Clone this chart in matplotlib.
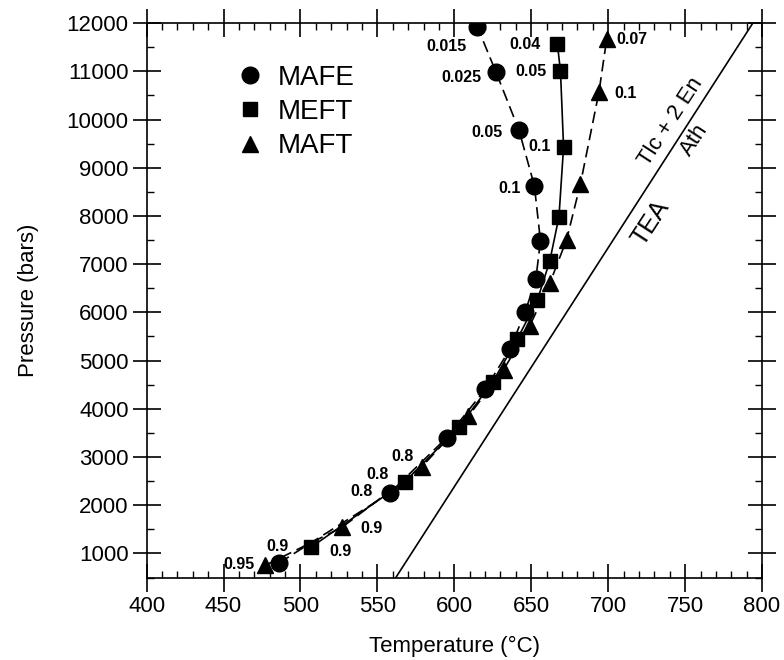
import matplotlib
matplotlib.use('Agg')
from matplotlib import pyplot as plt
from matplotlib.lines import Line2D
from matplotlib.ticker import MultipleLocator

plt.rcParams['font.family'] = ['Liberation Sans', 'DejaVu Sans']

# data
mafe_t = [486, 558, 595, 620, 636, 646, 653, 656, 652, 642, 627, 615]
mafe_p = [800, 2250, 3400, 4400, 5230, 6000, 6700, 7480, 8630, 9780, 10990, 11920]
mafe_lab = {0: '0.9', 1: '0.8', 8: '0.1', 9: '0.05', 10: '0.025', 11: '0.015'}

meft_t = [507, 568, 603, 625, 641, 654, 662, 668, 671, 669, 667]
meft_p = [1130, 2490, 3620, 4560, 5450, 6260, 7060, 7980, 9430, 11000, 11560]
meft_lab = {0: '0.9', 1: '0.8', 8: '0.1', 9: '0.05', 10: '0.04'}

maft_t = [477, 527, 579, 609, 632, 649, 662, 673, 682, 694, 699]
maft_p = [750, 1540, 2800, 3840, 4810, 5720, 6600, 7510, 8670, 10570, 11660]
maft_lab = {0: '0.95', 1: '0.9', 2: '0.8', 9: '0.1', 10: '0.07'}

tea_t = [562, 794]
tea_p = [500, 12000]

# label offsets (points) relative to each marker
mafe_off = {0: (-1, 12), 1: (-20, 1), 8: (-18, -2), 9: (-23, -2), 10: (-25, -4), 11: (-22, -14)}
meft_off = {0: (21, -3), 1: (-20, 5), 8: (-17, 0), 9: (-21, 0), 10: (-23, 0)}
maft_off = {0: (-19, 1), 1: (21, -1), 2: (-14, 7), 9: (19, -1), 10: (18, 0)}

fig = plt.figure(figsize=(7.84, 6.6), dpi=100)
ax = fig.add_axes([0.187, 0.125, 0.785, 0.840])

ax.plot(mafe_t, mafe_p, 'k--', lw=1.2, dashes=(7, 3.5), marker='o', ms=12)
ax.plot(meft_t, meft_p, 'k-', lw=1.2, marker='s', ms=10)
ax.plot(maft_t, maft_p, 'k--', lw=1.2, dashes=(7, 3.5), marker='^', ms=12)
ax.plot(tea_t, tea_p, 'k-', lw=1.2)

for t, p, labs, offs in [(mafe_t, mafe_p, mafe_lab, mafe_off),
                         (meft_t, meft_p, meft_lab, meft_off),
                         (maft_t, maft_p, maft_lab, maft_off)]:
    for i, s in labs.items():
        ax.annotate(s, (t[i], p[i]), xytext=offs[i], textcoords='offset points',
                    ha='center', va='center', fontsize=11.5, fontweight='bold')

ax.text(741, 9950, 'Tlc + 2 En', rotation=57, ha='center', va='center', fontsize=16)
ax.text(756, 9570, 'Ath', rotation=57, ha='center', va='center', fontsize=16)
ax.text(728, 7860, 'TEA', rotation=57, ha='center', va='center', fontsize=18)

ax.set_xlim(400, 800)
ax.set_ylim(500, 12000)
ax.xaxis.set_major_locator(MultipleLocator(50))
ax.xaxis.set_minor_locator(MultipleLocator(10))
ax.yaxis.set_major_locator(MultipleLocator(1000))
ax.yaxis.set_minor_locator(MultipleLocator(500))
ax.tick_params(which='major', direction='inout', length=20, width=1.2,
               top=True, right=True, labelsize=16, pad=3)
ax.tick_params(which='minor', direction='in', length=5, width=1,
               top=True, right=True)
for sp in ax.spines.values():
    sp.set_linewidth(1.2)

ax.set_xlabel('Temperature (°C)', fontsize=16, labelpad=14)
ax.set_ylabel('Pressure (bars)', fontsize=16, labelpad=20)

handles = [Line2D([], [], color='k', marker='o', ls='none', ms=12),
           Line2D([], [], color='k', marker='s', ls='none', ms=10),
           Line2D([], [], color='k', marker='^', ls='none', ms=12)]
ax.legend(handles, ['MAFE', 'MEFT', 'MAFT'], loc='upper left',
          bbox_to_anchor=(0.10, 0.97), frameon=False, fontsize=20,
          handletextpad=0.4, labelspacing=0.3, handlelength=1.2)

fig.savefig('out.png', dpi=100)
